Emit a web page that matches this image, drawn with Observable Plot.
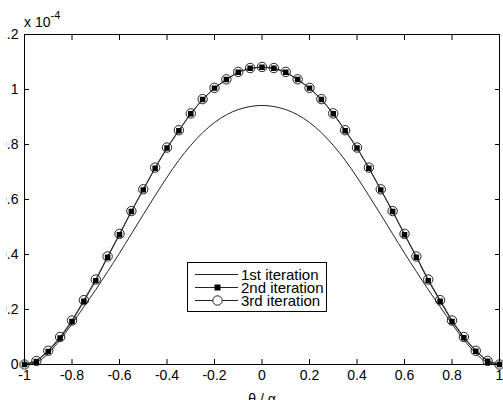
<!DOCTYPE html>
<html>
<head>
<meta charset="utf-8">
<script src="https://cdn.jsdelivr.net/npm/d3@7"></script>
<script src="https://cdn.jsdelivr.net/npm/@observablehq/plot@0.6"></script>
<style>
  html, body { margin: 0; padding: 0; background: #fff; }
  #chart { position: relative; width: 503px; height: 400px; overflow: hidden; }
  #chart svg { display: block; clip-path: inset(0 0 0 6.5px); }
</style>
</head>
<body>
<div id="chart"></div>
<script>
// theta / alpha sample points
const theta = [-1, -0.95, -0.9, -0.85, -0.8, -0.75, -0.7, -0.65, -0.6, -0.55, -0.5,
  -0.45, -0.4, -0.35, -0.3, -0.25, -0.2, -0.15, -0.1, -0.05, 0,
  0.05, 0.1, 0.15, 0.2, 0.25, 0.3, 0.35, 0.4, 0.45, 0.5,
  0.55, 0.6, 0.65, 0.7, 0.75, 0.8, 0.85, 0.9, 0.95, 1];
// values in units of 1e-4
const iter1 = [0, 0.008, 0.04, 0.09, 0.147, 0.21, 0.272, 0.338, 0.405, 0.475, 0.545,
  0.614, 0.681, 0.743, 0.797, 0.843, 0.880, 0.908, 0.927, 0.938, 0.942,
  0.938, 0.927, 0.908, 0.880, 0.843, 0.797, 0.743, 0.681, 0.614, 0.545,
  0.475, 0.405, 0.338, 0.272, 0.21, 0.147, 0.09, 0.04, 0.008, 0];
const iter2 = [0, 0.011, 0.047, 0.096, 0.156, 0.23, 0.305, 0.39, 0.472, 0.556, 0.635,
  0.714, 0.787, 0.850, 0.912, 0.964, 1.005, 1.036, 1.063, 1.077, 1.081,
  1.077, 1.063, 1.036, 1.005, 0.964, 0.912, 0.850, 0.787, 0.714, 0.635,
  0.556, 0.472, 0.39, 0.305, 0.23, 0.156, 0.097, 0.048, 0.012, 0];
const iter3 = [0, 0.013, 0.05, 0.10, 0.16, 0.234, 0.309, 0.393, 0.475, 0.558, 0.637,
  0.716, 0.789, 0.852, 0.913, 0.965, 1.006, 1.037, 1.064, 1.078, 1.082,
  1.078, 1.064, 1.037, 1.006, 0.965, 0.913, 0.852, 0.789, 0.716, 0.637,
  0.558, 0.475, 0.393, 0.309, 0.234, 0.16, 0.10, 0.05, 0.013, 0];
const seriesNames = ["1st iteration", "2nd iteration", "3rd iteration"];
const xTicks = [-1, -0.8, -0.6, -0.4, -0.2, 0, 0.2, 0.4, 0.6, 0.8, 1];
const yTicks = [0, 0.2, 0.4, 0.6, 0.8, 1, 1.2];
const xLabel = "θ / α";
const yExponent = "-4";

const d1 = theta.map((t, i) => ({t, v: iter1[i]}));
const d2 = theta.map((t, i) => ({t, v: iter2[i]}));
const d3d = theta.map((t, i) => ({t, v: iter3[i]}));

const fmt = d => String(d);

const plot = Plot.plot({
  width: 503,
  height: 400,
  marginLeft: 24,
  marginRight: 4,
  marginTop: 34,
  marginBottom: 36,
  style: {fontFamily: "Arial, 'Liberation Sans', sans-serif", fontSize: "14px", background: "#fff", color: "#000"},
  x: {domain: [-1, 1]},
  y: {domain: [0, 1.2]},
  marks: [
    Plot.axisX(xTicks, {anchor: "bottom", tickSize: -5, tickPadding: 11, tickFormat: fmt, label: null, fontSize: 14}),
    Plot.axisX(xTicks, {anchor: "top", tickSize: -5, tickFormat: () => "", label: null}),
    Plot.axisY(yTicks, {anchor: "left", tickSize: -5, tickPadding: 11, tickFormat: fmt, label: null, fontSize: 14}),
    Plot.axisY(yTicks, {anchor: "right", tickSize: -5, tickFormat: () => "", label: null}),
    Plot.line(d1, {x: "t", y: "v", stroke: "#222", strokeWidth: 1, curve: "natural"}),
    Plot.line(d2, {x: "t", y: "v", stroke: "#222", strokeWidth: 1}),
    Plot.line(d3d, {x: "t", y: "v", stroke: "#333", strokeWidth: 1}),
    Plot.dot(d2, {x: "t", y: "v", symbol: "square", r: 3.1, fill: "#000", stroke: "none"}),
    Plot.dot(d3d, {x: "t", y: "v", symbol: "circle", r: 4.7, fill: "none", stroke: "#222", strokeWidth: 1}),
    Plot.frame({stroke: "#000", strokeWidth: 1})
  ]
});

document.getElementById("chart").appendChild(plot);

const svg = d3.select(plot);
const font = "Arial, 'Liberation Sans', sans-serif";

// exponent label "x 10^-4"
const ex = svg.append("text").attr("x", 24).attr("y", 27)
  .attr("text-anchor", "start")
  .attr("font-family", font).attr("font-size", 14).attr("fill", "#000");
ex.append("tspan").text("x 10");
ex.append("tspan").attr("dy", -8).attr("font-size", 11).text(yExponent);

// x axis label
svg.append("text").attr("x", 262).attr("y", 404)
  .attr("text-anchor", "middle")
  .attr("font-family", font).attr("font-size", 14).attr("fill", "#000")
  .text(xLabel);

// legend
const lg = svg.append("g").attr("text-anchor", "start");
lg.append("rect").attr("x", 187.5).attr("y", 262.5).attr("width", 139).attr("height", 49)
  .attr("fill", "#fff").attr("stroke", "#000").attr("stroke-width", 1);
const rowsY = [274, 287, 300];
seriesNames.forEach((name, i) => {
  const y = rowsY[i];
  lg.append("line").attr("x1", 195).attr("x2", 238).attr("y1", y + 0.5).attr("y2", y + 0.5)
    .attr("stroke", "#222").attr("stroke-width", 1);
  if (i === 1) {
    lg.append("rect").attr("x", 214.5).attr("y", y - 2.5).attr("width", 6).attr("height", 6).attr("fill", "#000");
  }
  if (i === 2) {
    lg.append("circle").attr("cx", 217.5).attr("cy", y + 0.5).attr("r", 4.7)
      .attr("fill", "#fff").attr("stroke", "#222").attr("stroke-width", 1);
  }
  lg.append("text").attr("x", 241).attr("y", y + 5.5)
    .attr("text-anchor", "start")
    .attr("font-family", font).attr("font-size", 15).attr("fill", "#000")
    .text(name);
});
</script>
</body>
</html>
